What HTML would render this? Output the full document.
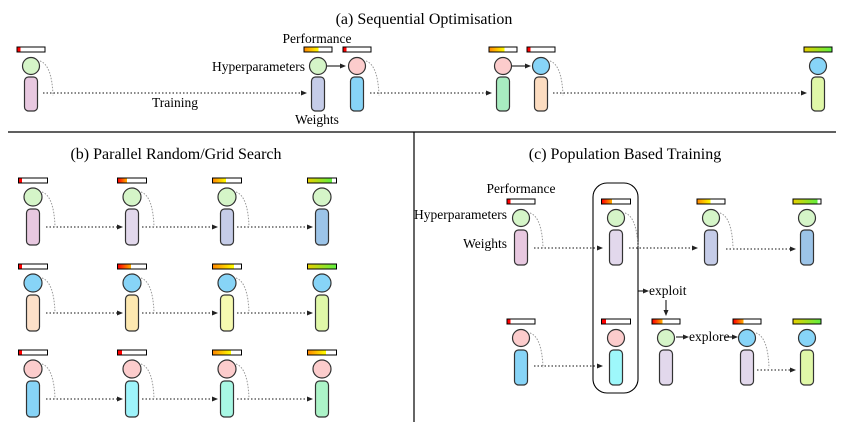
<!DOCTYPE html>
<html><head><meta charset="utf-8"><style>
html,body{margin:0;padding:0;background:#fff;}
svg{display:block;}
text{font-family:"Liberation Serif","DejaVu Serif",serif;}
</style></head><body>
<svg width="848" height="442" viewBox="0 0 848 442" xmlns="http://www.w3.org/2000/svg" font-family="Liberation Serif, serif">
<defs>
<linearGradient id="ro" x1="0" x2="1"><stop offset="0" stop-color="#f00"/><stop offset="1" stop-color="#ffb000"/></linearGradient>
<linearGradient id="roy" x1="0" x2="1"><stop offset="0" stop-color="#f80"/><stop offset="1" stop-color="#ff0"/></linearGradient>
<linearGradient id="yg" x1="0" x2="1"><stop offset="0" stop-color="#e6d000"/><stop offset="1" stop-color="#60f040"/></linearGradient>
<marker id="ar" markerWidth="6" markerHeight="6" refX="5" refY="3" orient="auto" markerUnits="userSpaceOnUse"><path d="M0,0.5 L6,3 L0,5.5 z" fill="#222"/></marker>
<g id="arc"><path d="M9,-5 Q21,-1 22,30" fill="none" stroke="#999" stroke-width="1" stroke-dasharray="1.5,1.5"/></g>
</defs>
<style>
.bar{fill:#fff;stroke:#000;stroke-width:1}
.c{stroke:#333;stroke-width:1.2}
.w{stroke:#333;stroke-width:1.2}
.dl{stroke:#111;stroke-width:1.1;stroke-dasharray:1.5,2;fill:none}
.t{font-size:13.5px;fill:#000;font-family:"Liberation Serif",serif}
.tt{font-size:16px;fill:#000;font-family:"Liberation Serif",serif}
</style>

<text class="tt" x="424" y="24" text-anchor="middle" font-family="Liberation Serif">(a) Sequential Optimisation</text>
<text class="tt" x="176" y="159" text-anchor="middle" font-family="Liberation Serif">(b) Parallel Random/Grid Search</text>
<text class="tt" x="625" y="159" text-anchor="middle" font-family="Liberation Serif">(c) Population Based Training</text>
<line x1="8" y1="132" x2="836" y2="132" stroke="#000" stroke-width="1.2"/>
<line x1="414" y1="132" x2="414" y2="422" stroke="#000" stroke-width="1.2"/>

<text class="t" x="175" y="107" text-anchor="middle" font-family="Liberation Serif">Training</text>
<text class="t" x="317" y="43" text-anchor="middle" font-family="Liberation Serif">Performance</text>
<text class="t" x="305" y="71" text-anchor="end" font-family="Liberation Serif">Hyperparameters</text>
<text class="t" x="317" y="124" text-anchor="middle" font-family="Liberation Serif">Weights</text>
<line class="dl" x1="43" y1="93" x2="306" y2="93" marker-end="url(#ar)"/>
<line class="dl" x1="370" y1="93" x2="491" y2="93" marker-end="url(#ar)"/>
<line class="dl" x1="553" y1="93" x2="806" y2="93" marker-end="url(#ar)"/>
<line x1="327" y1="66" x2="345" y2="66" stroke="#000" stroke-width="1.1" marker-end="url(#ar)"/>
<line x1="512" y1="66" x2="530" y2="66" stroke="#000" stroke-width="1.1" marker-end="url(#ar)"/>

<g transform="translate(31,66)"><use href="#arc"/><rect class="bar" x="-14" y="-19" width="28" height="5"/><rect x="-13.5" y="-18.5" width="3" height="4" fill="#f00"/><circle class="c" r="8.5" fill="#d5f5c8"/><rect class="w" x="-6.5" y="11" width="13" height="34" rx="4" fill="#e8c8e0"/></g>
<g transform="translate(318,66)"><rect class="bar" x="-14" y="-19" width="28" height="5"/><rect x="-13.5" y="-18.5" width="14" height="4" fill="url(#roy)"/><circle class="c" r="8.5" fill="#d5f5c8"/><rect class="w" x="-6.5" y="11" width="13" height="34" rx="4" fill="#c5cce8"/></g>
<g transform="translate(357,66)"><use href="#arc"/><rect class="bar" x="-14" y="-19" width="28" height="5"/><rect x="-13.5" y="-18.5" width="3" height="4" fill="#f00"/><circle class="c" r="8.5" fill="#fccccc"/><rect class="w" x="-6.5" y="11" width="13" height="34" rx="4" fill="#87d4f7"/></g>
<g transform="translate(503,66)"><rect class="bar" x="-14" y="-19" width="28" height="5"/><rect x="-13.5" y="-18.5" width="15" height="4" fill="url(#roy)"/><circle class="c" r="8.5" fill="#fccccc"/><rect class="w" x="-6.5" y="11" width="13" height="34" rx="4" fill="#a8ecc0"/></g>
<g transform="translate(541,66)"><use href="#arc"/><rect class="bar" x="-14" y="-19" width="28" height="5"/><rect x="-13.5" y="-18.5" width="3" height="4" fill="#f00"/><circle class="c" r="8.5" fill="#87d4f7"/><rect class="w" x="-6.5" y="11" width="13" height="34" rx="4" fill="#fcdcc0"/></g>
<g transform="translate(818,66)"><rect class="bar" x="-14" y="-19" width="28" height="5"/><rect x="-13.5" y="-18.5" width="27" height="4" fill="url(#yg)"/><circle class="c" r="8.5" fill="#87d4f7"/><rect class="w" x="-6.5" y="11" width="13" height="34" rx="4" fill="#e0f8a8"/></g>

<g>
<line class="dl" x1="46" y1="227" x2="122" y2="227" marker-end="url(#ar)"/>
<line class="dl" x1="142" y1="227" x2="217" y2="227" marker-end="url(#ar)"/>
<line class="dl" x1="237" y1="227" x2="312" y2="227" marker-end="url(#ar)"/>
<line class="dl" x1="46" y1="313" x2="122" y2="313" marker-end="url(#ar)"/>
<line class="dl" x1="142" y1="313" x2="217" y2="313" marker-end="url(#ar)"/>
<line class="dl" x1="237" y1="313" x2="312" y2="313" marker-end="url(#ar)"/>
<line class="dl" x1="46" y1="399" x2="122" y2="399" marker-end="url(#ar)"/>
<line class="dl" x1="142" y1="399" x2="217" y2="399" marker-end="url(#ar)"/>
<line class="dl" x1="237" y1="399" x2="312" y2="399" marker-end="url(#ar)"/>
</g>
<g transform="translate(33,197)"><use href="#arc"/><rect class="bar" x="-14.5" y="-19" width="29" height="5"/><rect x="-14" y="-18.5" width="3" height="4" fill="#f00"/><circle class="c" r="9" fill="#d5f5c8"/><rect class="w" x="-6.5" y="12" width="13" height="36" rx="4" fill="#e8c8e0"/></g>
<g transform="translate(132,197)"><use href="#arc"/><rect class="bar" x="-14.5" y="-19" width="29" height="5"/><rect x="-14" y="-18.5" width="9" height="4" fill="url(#ro)"/><circle class="c" r="9" fill="#d5f5c8"/><rect class="w" x="-6.5" y="12" width="13" height="36" rx="4" fill="#e2d8ec"/></g>
<g transform="translate(227,197)"><use href="#arc"/><rect class="bar" x="-14.5" y="-19" width="29" height="5"/><rect x="-14" y="-18.5" width="13" height="4" fill="url(#roy)"/><circle class="c" r="9" fill="#d5f5c8"/><rect class="w" x="-6.5" y="12" width="13" height="36" rx="4" fill="#c5cce8"/></g>
<g transform="translate(322,197)"><rect class="bar" x="-14.5" y="-19" width="29" height="5"/><rect x="-14" y="-18.5" width="24" height="4" fill="url(#yg)"/><circle class="c" r="9" fill="#d5f5c8"/><rect class="w" x="-6.5" y="12" width="13" height="36" rx="4" fill="#9cc4e8"/></g>
<g transform="translate(33,283)"><use href="#arc"/><rect class="bar" x="-14.5" y="-19" width="29" height="5"/><rect x="-14" y="-18.5" width="3" height="4" fill="#f00"/><circle class="c" r="9" fill="#87d4f7"/><rect class="w" x="-6.5" y="12" width="13" height="36" rx="4" fill="#fde0c8"/></g>
<g transform="translate(132,283)"><use href="#arc"/><rect class="bar" x="-14.5" y="-19" width="29" height="5"/><rect x="-14" y="-18.5" width="13" height="4" fill="url(#ro)"/><circle class="c" r="9" fill="#87d4f7"/><rect class="w" x="-6.5" y="12" width="13" height="36" rx="4" fill="#fde8b0"/></g>
<g transform="translate(227,283)"><use href="#arc"/><rect class="bar" x="-14.5" y="-19" width="29" height="5"/><rect x="-14" y="-18.5" width="21" height="4" fill="url(#roy)"/><circle class="c" r="9" fill="#87d4f7"/><rect class="w" x="-6.5" y="12" width="13" height="36" rx="4" fill="#f6fab0"/></g>
<g transform="translate(322,283)"><rect class="bar" x="-14.5" y="-19" width="29" height="5"/><rect x="-14" y="-18.5" width="28" height="4" fill="url(#yg)"/><circle class="c" r="9" fill="#87d4f7"/><rect class="w" x="-6.5" y="12" width="13" height="36" rx="4" fill="#e0f8a8"/></g>
<g transform="translate(33,369)"><use href="#arc"/><rect class="bar" x="-14.5" y="-19" width="29" height="5"/><rect x="-14" y="-18.5" width="3" height="4" fill="#f00"/><circle class="c" r="9" fill="#fccccc"/><rect class="w" x="-6.5" y="12" width="13" height="36" rx="4" fill="#87d4f7"/></g>
<g transform="translate(132,369)"><use href="#arc"/><rect class="bar" x="-14.5" y="-19" width="29" height="5"/><rect x="-14" y="-18.5" width="4" height="4" fill="#f00"/><circle class="c" r="9" fill="#fccccc"/><rect class="w" x="-6.5" y="12" width="13" height="36" rx="4" fill="#9ef4fb"/></g>
<g transform="translate(227,369)"><use href="#arc"/><rect class="bar" x="-14.5" y="-19" width="29" height="5"/><rect x="-14" y="-18.5" width="18" height="4" fill="url(#roy)"/><circle class="c" r="9" fill="#fccccc"/><rect class="w" x="-6.5" y="12" width="13" height="36" rx="4" fill="#a8f8e4"/></g>
<g transform="translate(322,369)"><rect class="bar" x="-14.5" y="-19" width="29" height="5"/><rect x="-14" y="-18.5" width="18" height="4" fill="url(#roy)"/><circle class="c" r="9" fill="#fccccc"/><rect class="w" x="-6.5" y="12" width="13" height="36" rx="4" fill="#acf4c8"/></g>

<text class="t" x="521" y="193" text-anchor="middle" font-family="Liberation Serif">Performance</text>
<text class="t" x="507" y="219" text-anchor="end" font-family="Liberation Serif">Hyperparameters</text>
<text class="t" x="507" y="248" text-anchor="end" font-family="Liberation Serif">Weights</text>
<rect x="593" y="183" width="45" height="210" rx="14" fill="none" stroke="#000" stroke-width="1.1"/>
<line class="dl" x1="534" y1="248" x2="602" y2="248" marker-end="url(#ar)"/>
<line class="dl" x1="629" y1="248" x2="697" y2="248" marker-end="url(#ar)"/>
<line class="dl" x1="726" y1="249" x2="795" y2="249" marker-end="url(#ar)"/>
<line class="dl" x1="534" y1="366" x2="602" y2="366" marker-end="url(#ar)"/>
<line class="dl" x1="757" y1="370" x2="795" y2="370" marker-end="url(#ar)"/>
<line x1="638" y1="291" x2="648" y2="291" stroke="#000" stroke-width="1" marker-end="url(#ar)"/>
<text class="t" x="649" y="295" font-family="Liberation Serif">exploit</text>
<line x1="666" y1="300" x2="666" y2="315" stroke="#000" stroke-width="1" marker-end="url(#ar)"/>
<line x1="676" y1="337" x2="688" y2="337" stroke="#000" stroke-width="1" marker-end="url(#ar)"/>
<text class="t" x="689" y="341" font-family="Liberation Serif">explore</text>
<line x1="725" y1="337" x2="737" y2="337" stroke="#000" stroke-width="1" marker-end="url(#ar)"/>

<g transform="translate(521,218)"><use href="#arc"/><rect class="bar" x="-14" y="-19" width="28" height="5"/><rect x="-13.5" y="-18.5" width="3" height="4" fill="#f00"/><circle class="c" r="8.5" fill="#d5f5c8"/><rect class="w" x="-6.5" y="12" width="13" height="35" rx="4" fill="#e8c8e0"/></g>
<g transform="translate(616,218)"><use href="#arc"/><rect class="bar" x="-14.5" y="-19" width="29" height="5"/><rect x="-14" y="-18.5" width="10" height="4" fill="url(#ro)"/><circle class="c" r="8.5" fill="#d5f5c8"/><rect class="w" x="-6.5" y="12" width="13" height="35" rx="4" fill="#e2d8ec"/></g>
<g transform="translate(711,218)"><use href="#arc"/><rect class="bar" x="-14" y="-19" width="28" height="5"/><rect x="-13.5" y="-18.5" width="13" height="4" fill="url(#roy)"/><circle class="c" r="8.5" fill="#d5f5c8"/><rect class="w" x="-6.5" y="12" width="13" height="35" rx="4" fill="#c5cce8"/></g>
<g transform="translate(807,218)"><rect class="bar" x="-14" y="-19" width="28" height="5"/><rect x="-13.5" y="-18.5" width="24" height="4" fill="url(#yg)"/><circle class="c" r="8.5" fill="#d5f5c8"/><rect class="w" x="-6.5" y="12" width="13" height="35" rx="4" fill="#9cc4e8"/></g>

<g transform="translate(521,338)"><use href="#arc"/><rect class="bar" x="-14" y="-19" width="28" height="5"/><rect x="-13.5" y="-18.5" width="3" height="4" fill="#f00"/><circle class="c" r="8.5" fill="#fccccc"/><rect class="w" x="-6.5" y="12" width="13" height="35" rx="4" fill="#87d4f7"/></g>
<g transform="translate(616,338)"><rect class="bar" x="-14.5" y="-19" width="29" height="5"/><rect x="-14" y="-18.5" width="4" height="4" fill="#f00"/><circle class="c" r="8.5" fill="#fccccc"/><rect class="w" x="-6.5" y="12" width="13" height="35" rx="4" fill="#9ef8fb"/></g>
<g transform="translate(666,338)"><rect class="bar" x="-14" y="-19" width="28" height="5"/><rect x="-13.5" y="-18.5" width="10" height="4" fill="url(#ro)"/><circle class="c" r="8.5" fill="#d5f5c8"/><rect class="w" x="-6.5" y="12" width="13" height="35" rx="4" fill="#e2d8ec"/></g>
<g transform="translate(747,338)"><use href="#arc"/><rect class="bar" x="-14" y="-19" width="28" height="5"/><rect x="-13.5" y="-18.5" width="10" height="4" fill="url(#ro)"/><circle class="c" r="8.5" fill="#87d4f7"/><rect class="w" x="-6.5" y="12" width="13" height="35" rx="4" fill="#e2d8ec"/></g>
<g transform="translate(807,338)"><rect class="bar" x="-14" y="-19" width="28" height="5"/><rect x="-13.5" y="-18.5" width="27" height="4" fill="url(#yg)"/><circle class="c" r="8.5" fill="#87d4f7"/><rect class="w" x="-6.5" y="12" width="13" height="35" rx="4" fill="#e0f8a8"/></g>
</svg>
</body></html>
